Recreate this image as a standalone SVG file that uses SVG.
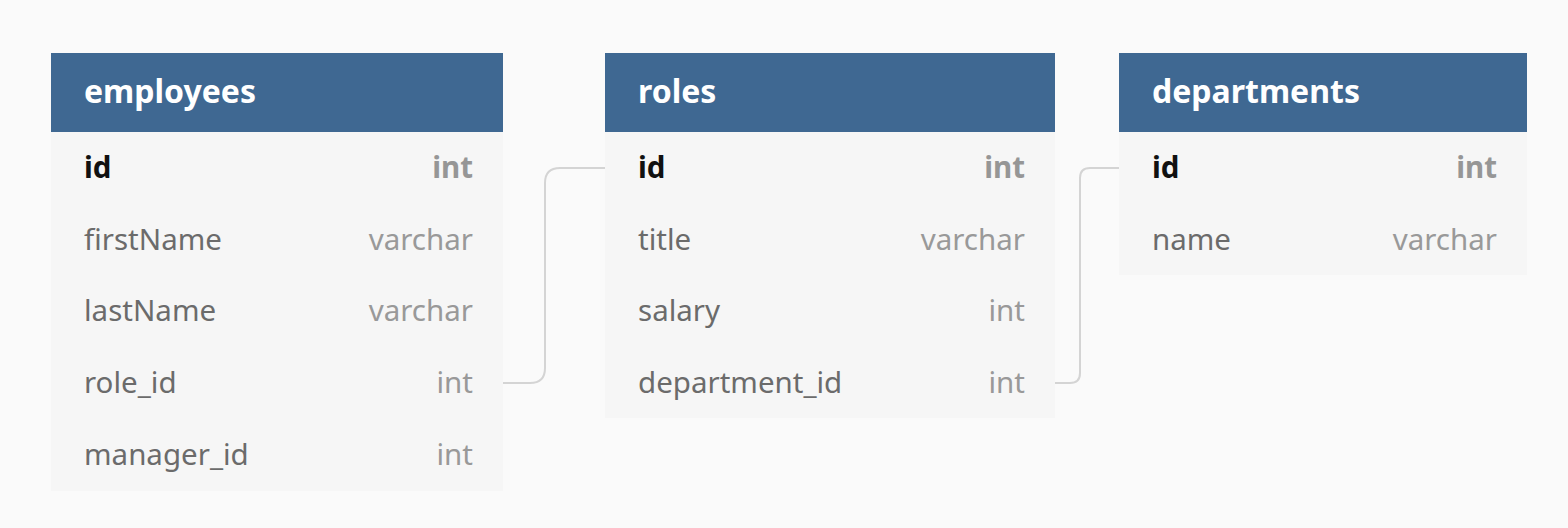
<svg xmlns="http://www.w3.org/2000/svg" width="1568" height="528" viewBox="0 0 1568 528">
<style>
.bg{fill:#fafafa}
.hdr{fill:#3f6892}
.body{fill:#f6f6f6}
.title{font-family:"Noto Sans","Open Sans",sans-serif;font-size:32px;font-weight:bold;fill:#ffffff}
.f{font-family:"Noto Sans","Open Sans",sans-serif;font-size:29.5px;fill:#6b6b6b}
.t{font-family:"Noto Sans","Open Sans",sans-serif;font-size:29.5px;fill:#999999;text-anchor:end}
.pk{font-weight:bold;fill:#111111}
.pkt{font-weight:bold;fill:#969696}
.conn{fill:none;stroke:#d4d4d4;stroke-width:2}
</style>
<rect class="bg" x="0" y="0" width="1568" height="528"/>
<g id="connectors">
<path class="conn" d="M503 383 H530 Q545 383 545 368 V183 Q545 168 560 168 H605"/>
<path class="conn" d="M1055 383 H1070 Q1080 383 1080 373 V178 Q1080 168 1090 168 H1119"/>
</g>
<g id="employees">
<rect class="body" x="51" y="132" width="452" height="359"/>
<rect class="hdr" x="51" y="53" width="452" height="79"/>
<text class="title" x="84" y="103">employees</text>
<text class="f pk" x="84" y="178">id</text><text class="t pkt" x="473" y="178">int</text>
<text class="f" x="84" y="250">firstName</text><text class="t" x="473" y="250">varchar</text>
<text class="f" x="84" y="321">lastName</text><text class="t" x="473" y="321">varchar</text>
<text class="f" x="84" y="393">role_id</text><text class="t" x="473" y="393">int</text>
<text class="f" x="84" y="465">manager_id</text><text class="t" x="473" y="465">int</text>
</g>
<g id="roles">
<rect class="body" x="605" y="132" width="450" height="286"/>
<rect class="hdr" x="605" y="53" width="450" height="79"/>
<text class="title" x="638" y="103">roles</text>
<text class="f pk" x="638" y="178">id</text><text class="t pkt" x="1025" y="178">int</text>
<text class="f" x="638" y="250">title</text><text class="t" x="1025" y="250">varchar</text>
<text class="f" x="638" y="321">salary</text><text class="t" x="1025" y="321">int</text>
<text class="f" x="638" y="393">department_id</text><text class="t" x="1025" y="393">int</text>
</g>
<g id="departments">
<rect class="body" x="1119" y="132" width="408" height="143"/>
<rect class="hdr" x="1119" y="53" width="408" height="79"/>
<text class="title" x="1152" y="103">departments</text>
<text class="f pk" x="1152" y="178">id</text><text class="t pkt" x="1497" y="178">int</text>
<text class="f" x="1152" y="250">name</text><text class="t" x="1497" y="250">varchar</text>
</g>
</svg>
